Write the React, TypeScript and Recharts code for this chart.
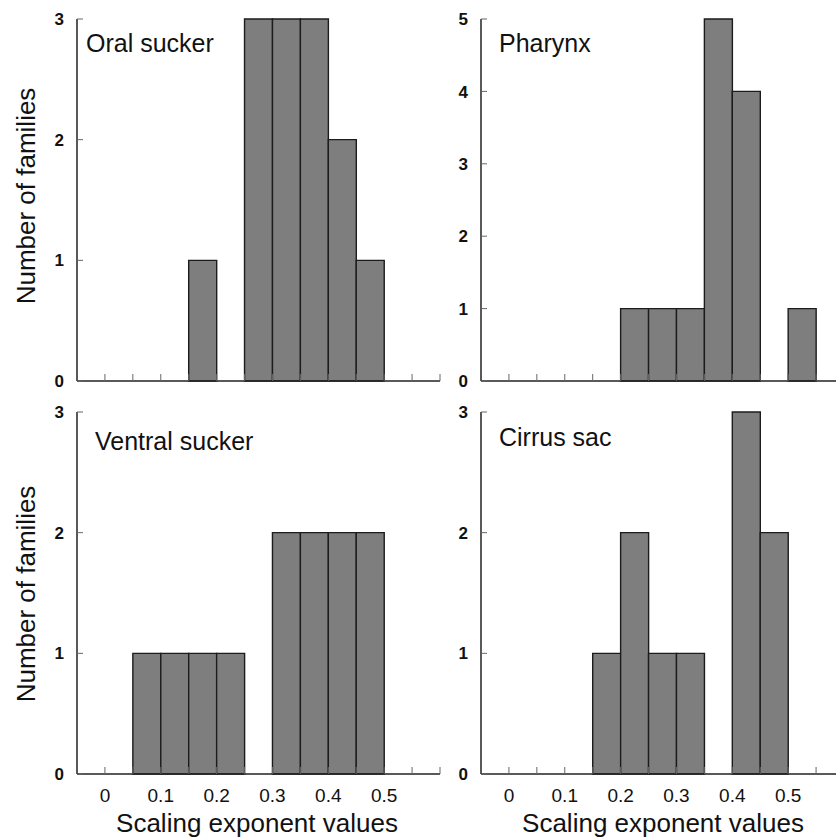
import { Bar, BarChart, XAxis, YAxis } from "recharts";

// bin centres, 0.05 wide bins from 0 to 0.6
const binMid = [0.025, 0.075, 0.125, 0.175, 0.225, 0.275, 0.325, 0.375, 0.425, 0.475, 0.525, 0.575];

const oralSucker = [0, 0, 0, 1, 0, 3, 3, 3, 2, 1, 0, 0];
const pharynx = [0, 0, 0, 0, 1, 1, 1, 5, 4, 0, 1, 0];
const ventralSucker = [0, 1, 1, 1, 1, 0, 2, 2, 2, 2, 0, 0];
const cirrusSac = [0, 0, 0, 1, 2, 1, 1, 0, 3, 2, 0, 0];

const xTicks = [0, 0.05, 0.1, 0.15, 0.2, 0.25, 0.3, 0.35, 0.4, 0.45, 0.5, 0.55, 0.6];
const xTickLabels = [0, 0.1, 0.2, 0.3, 0.4, 0.5];
const yTicksSmall = [0, 1, 2, 3];
const yTicksLarge = [0, 1, 2, 3, 4, 5];

const FONT = '"Liberation Sans", Arial, Helvetica, sans-serif';

const XTick = (props: any) => {
  const { x, y, payload, showLabel } = props;
  return (
    <g>
      <line x1={x} x2={x} y1={y} y2={y - 7} stroke="#666" strokeWidth={1} />
      {showLabel && xTickLabels.includes(payload.value) && (
        <text x={x} y={y + 28} textAnchor="middle" fontSize={19} fontFamily={FONT} fill="#111">
          {String(payload.value)}
        </text>
      )}
    </g>
  );
};

const YTick = (props: any) => {
  const { x, y, payload } = props;
  return (
    <g>
      <line x1={x} x2={x + 6} y1={y} y2={y} stroke="#666" strokeWidth={1} />
      <text x={x - 13} y={y} dy="0.36em" textAnchor="end" fontSize={17} fontWeight="bold" fontFamily={FONT} fill="#111">
        {payload.value}
      </text>
    </g>
  );
};

interface PanelProps {
  counts: number[];
  yMax: number;
  yTicks: number[];
  left: number;
  top: number;
  bottomLabels: boolean;
}

function Panel({ counts, yMax, yTicks, left, top, bottomLabels }: PanelProps) {
  const data = binMid.map((x, i) => ({ x, count: counts[i] }));
  const xHeight = bottomLabels ? 63 : 20;
  return (
    <div style={{ position: "absolute", left, top }}>
      <BarChart
        width={77 + 363 + 10}
        height={19 + 362 + xHeight}
        data={data}
        margin={{ top: 19, right: 10, left: 0, bottom: 0 }}
        barCategoryGap={0}
        barGap={0}
      >
        <XAxis
          dataKey="x"
          type="number"
          domain={[-0.05, 0.6]}
          ticks={xTicks}
          interval={0}
          height={xHeight}
          tickSize={0}
          tickMargin={0}
          tickLine={false}
          axisLine={{ stroke: "#222", strokeWidth: 1.5 }}
          tick={<XTick showLabel={bottomLabels} />}
          allowDataOverflow
        />
        <YAxis
          type="number"
          domain={[0, yMax]}
          ticks={yTicks}
          interval={0}
          width={77}
          tickSize={0}
          tickMargin={0}
          tickLine={false}
          axisLine={{ stroke: "#222", strokeWidth: 1.5 }}
          tick={<YTick />}
        />
        <Bar dataKey="count" fill="#7e7e7e" stroke="#1c1c1c" strokeWidth={1.4} isAnimationActive={false} />
      </BarChart>
    </div>
  );
}

export default function App() {
  return (
    <div
      style={{
        position: "absolute",
        left: 0,
        top: 0,
        width: 836,
        height: 837,
        overflow: "hidden",
        background: "#fff",
      }}
    >
      <Panel counts={oralSucker} yMax={3} yTicks={yTicksSmall} left={0} top={0} bottomLabels={false} />
      <Panel counts={pharynx} yMax={5} yTicks={yTicksLarge} left={404} top={0} bottomLabels={false} />
      <Panel counts={ventralSucker} yMax={3} yTicks={yTicksSmall} left={0} top={393} bottomLabels />
      <Panel counts={cirrusSac} yMax={3} yTicks={yTicksSmall} left={404} top={393} bottomLabels />
      <svg
        width={836}
        height={837}
        style={{ position: "absolute", left: 0, top: 0, pointerEvents: "none" }}
        fontFamily={FONT}
        fill="#111"
      >
        <text x={86} y={52} fontSize={25}>Oral sucker</text>
        <text x={499} y={52} fontSize={25}>Pharynx</text>
        <text x={95} y={450} fontSize={25}>Ventral sucker</text>
        <text x={499} y={446} fontSize={25}>Cirrus sac</text>
        <text transform="translate(35,196) rotate(-90)" textAnchor="middle" fontSize={26}>Number of families</text>
        <text transform="translate(35,594) rotate(-90)" textAnchor="middle" fontSize={26}>Number of families</text>
        <text x={257} y={832} textAnchor="middle" fontSize={26}>Scaling exponent values</text>
        <text x={663} y={832} textAnchor="middle" fontSize={26}>Scaling exponent values</text>
      </svg>
    </div>
  );
}
